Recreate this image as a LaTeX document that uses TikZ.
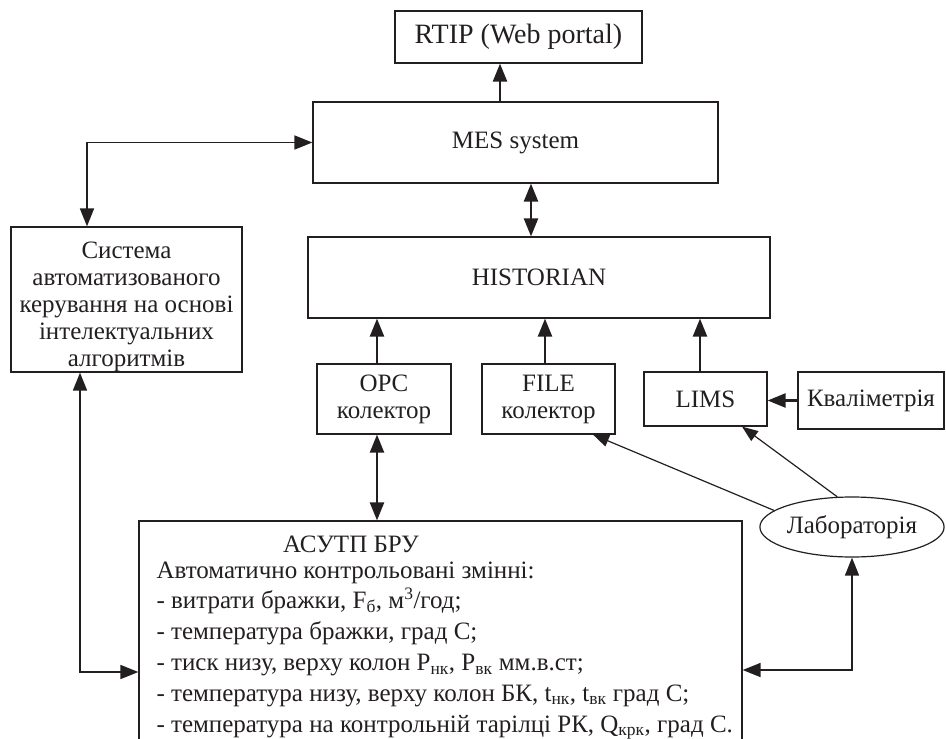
\documentclass[tikz,border=0pt]{standalone}
\usepackage{fontspec}
\setmainfont{Liberation Serif}
\usetikzlibrary{arrows.meta,shapes.geometric}
\definecolor{ink}{RGB}{35,31,32}
\def\boxline{1.2pt}
\def\arrline{2.3pt}
\def\linestep{30.8}

\begin{document}
\begin{tikzpicture}[x=1pt,y=-1pt,
  every node/.style={font=\fontsize{25}{27}\selectfont, text=ink},
  block/.style={draw=ink, line width=\boxline, rectangle, inner sep=0pt, align=center},
  arr/.style={draw=ink, line width=\arrline, -{Triangle[length=18pt,width=14pt]}},
  dblarr/.style={arr, {Triangle[length=18pt,width=14pt]}-{Triangle[length=18pt,width=14pt]}},
  thinarr/.style={draw=ink, line width=1.2pt, -{Triangle[length=16pt,width=12pt]}}]
  \useasboundingbox (0,0) rectangle (946,739);
  \clip (0,0) rectangle (946,739);

  % top level
  \node[block, minimum width=247pt, minimum height=52pt, font=\fontsize{28}{30}\selectfont] (rtip) at (518.5,37) {RTIP (Web portal)};
  \node[block, minimum width=405pt, minimum height=81pt] (mes) at (515.5,142.5) {MES system};
  \node[block, minimum width=462pt, minimum height=81pt] (hist) at (539,277.5) {HISTORIAN};
  \node[block, minimum width=231pt, minimum height=145pt] (sys) at (126.5,299.5)
    {{}\\[4pt]Система\\автоматизованого\\керування на основі\\інтелектуальних\\алгоритмів};

  % collectors
  \node[block, minimum width=134pt, minimum height=70pt] (opc) at (384,399) {OPC\\колектор};
  \node[block, minimum width=133pt, minimum height=70pt] (file) at (548.5,399) {FILE\\колектор};
  \node[block, minimum width=123pt, minimum height=54pt] (lims) at (705.5,399) {LIMS};
  \node[block, minimum width=146pt, minimum height=57pt] (kval) at (871,400.5) {Кваліметрія};
  \node[draw=ink, line width=\boxline, ellipse, inner sep=0pt, minimum width=164pt, minimum height=60pt] (lab) at (852,527) {Лабораторія};

  % process control system, bottom edge runs off the page
  \node[block, minimum width=603pt, minimum height=249pt] (asu) at (440.5,645.5) {};
  \node[anchor=base] (asutitle) at (351,552) {АСУТП БРУ};
  \foreach \txt [count=\i from 0] in {
      {Автоматично контрольовані змінні:},
      {- витрати бражки, F\textsubscript{б}, м\textsuperscript{3}/год;},
      {- температура бражки, град С;},
      {- тиск низу, верху колон P\textsubscript{нк}, P\textsubscript{вк} мм.в.ст;},
      {- температура низу, верху колон БК, t\textsubscript{нк}, t\textsubscript{вк} град С;},
      {- температура на контрольній тарілці РК, Q\textsubscript{крк}, град С.}}
    \node[anchor=base west] (asuline\i) at (153,578+\linestep*\i) {\txt};

  % connections
  \draw[arr] (500,0 |- mes.north) -- (500,0 |- rtip.south);
  \draw[dblarr] (531,0 |- mes.south) -- (531,0 |- hist.north);
  \draw[dblarr, line width=1.5pt] (87,0 |- sys.north) |- (mes.west);
  \foreach \n/\x in {opc/377, file/545, lims/700}
    \draw[arr] (\x,0 |- \n.north) -- (\x,0 |- hist.south);
  \draw[arr] (kval.west) -- (kval.west -| lims.east);
  \draw[dblarr] (377,0 |- opc.south) -- (377,0 |- asu.north);
  \draw[thinarr] (lab.168) -- (593,0 |- file.south);
  \draw[thinarr] (lab.116) -- (742,0 |- lims.south);
  \draw[dblarr, line width=1.5pt] (lab.south) |- (asu.east |- 0,670);
  \draw[dblarr, line width=1.5pt] (80,0 |- sys.south) |- (asu.west |- 0,672);
\end{tikzpicture}
\end{document}
